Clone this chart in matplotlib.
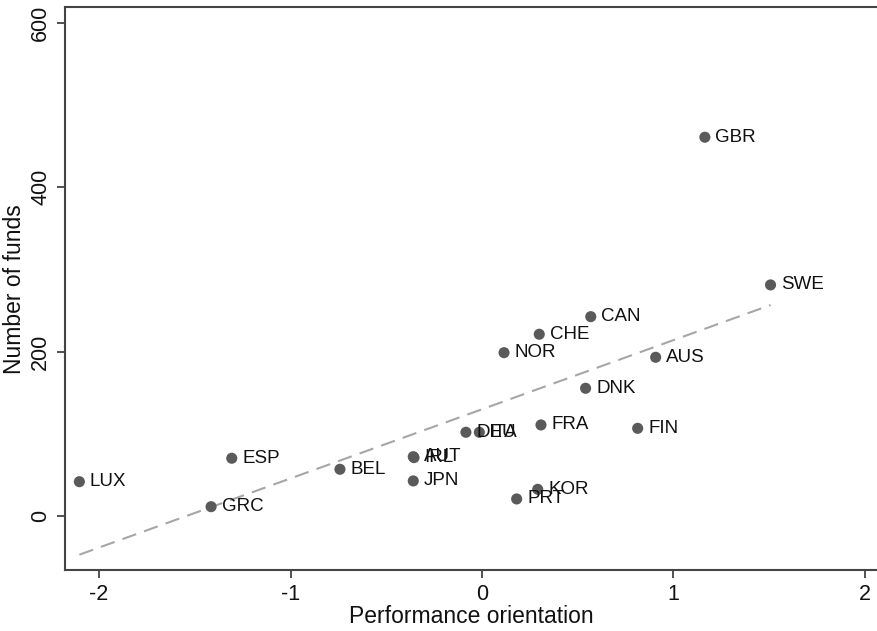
import matplotlib
matplotlib.use("Agg")
import matplotlib.pyplot as plt
import numpy as np

plt.rcParams['font.family'] = ['Liberation Sans', 'DejaVu Sans']

countries = ["LUX", "GRC", "ESP", "BEL", "AUT", "IRL", "JPN", "DEU", "ITA", "FRA",
             "NOR", "CHE", "CAN", "DNK", "AUS", "FIN", "SWE", "GBR", "KOR", "PRT"]
perf_orientation = [-2.103, -1.415, -1.307, -0.742, -0.359, -0.355, -0.359, -0.084, -0.014, 0.308,
                    0.115, 0.299, 0.568, 0.541, 0.907, 0.813, 1.507, 1.164, 0.291, 0.181]
num_funds = [41.7, 11.3, 70.2, 56.8, 72.1, 71.0, 42.6, 101.8, 101.8, 110.7,
             198.6, 221.0, 242.4, 155.3, 193.0, 106.6, 281.0, 460.6, 32.4, 20.7]
x_ticks = [-2, -1, 0, 1, 2]
y_ticks = [0, 200, 400, 600]

x = np.array(perf_orientation)
y = np.array(num_funds)

fig = plt.figure(figsize=(8.77, 6.31), dpi=100)
ax = fig.add_axes([65/877, 1 - 570/631, 1 - 65/877, (570 - 7.3)/631])

slope, intercept = np.polyfit(x, y, 1)
xs = np.array([x.min(), x.max()])
ax.plot(xs, intercept + slope * xs, linestyle=(0, (7, 4)), color='#a6a6a6', linewidth=1.5, zorder=1)

ax.scatter(x, y, s=64, color='#5a5a5a', edgecolors='none', zorder=3)
for c, xi, yi in zip(countries, x, y):
    ax.annotate(c, (xi, yi), xytext=(7.5, 0), textcoords='offset points',
                va='center', ha='left', fontsize=13.5, color='#111111', zorder=4)

ax.set_xlim(-2.178, 2.063)
ax.set_ylim(-65.7, 618.6)
ax.set_xticks(x_ticks)
ax.set_yticks(y_ticks)
ax.set_xticklabels([str(t) for t in x_ticks])
ax.set_yticklabels([str(t) for t in y_ticks], rotation=90, va='center')
ax.tick_params(axis='both', direction='out', length=6, width=1.2, color='#333333',
               labelsize=15.5, labelcolor='#111111', pad=4)
ax.set_xlabel("Performance orientation", fontsize=16.5, color='#111111', labelpad=0)
ax.set_ylabel("Number of funds", fontsize=16.5, color='#111111', labelpad=3)
for side in ['left', 'bottom', 'top']:
    ax.spines[side].set_color('#444444')
    ax.spines[side].set_linewidth(1.5)
ax.spines['right'].set_visible(False)

fig.savefig("out.png", dpi=100)
